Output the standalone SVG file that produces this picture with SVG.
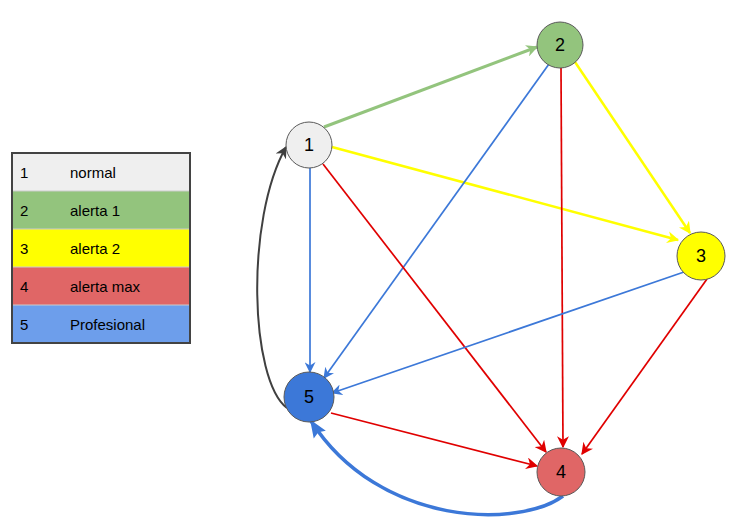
<svg xmlns="http://www.w3.org/2000/svg" width="755" height="528" viewBox="0 0 755 528">
  <style>
    text { font-family: "Liberation Sans", Arial, sans-serif; fill: #000; }
    .lbl { font-size: 15px; }
    .num { font-size: 18px; text-anchor: middle; dominant-baseline: central; }
    .node { stroke: #595959; stroke-width: 1; }
    .e { fill: none; }
  </style>
  <defs>
    <marker id="aG" viewBox="0 0 10 10" refX="9" refY="5" markerWidth="12" markerHeight="12" markerUnits="userSpaceOnUse" orient="auto"><path d="M0,0 L10,5 L0,10 L3,5 z" fill="#93c47d"/></marker>
    <marker id="aY" viewBox="0 0 10 10" refX="9" refY="5" markerWidth="12" markerHeight="12" markerUnits="userSpaceOnUse" orient="auto"><path d="M0,0 L10,5 L0,10 L3,5 z" fill="#ffff00"/></marker>
    <marker id="aB" viewBox="0 0 10 10" refX="9" refY="5" markerWidth="11" markerHeight="11" markerUnits="userSpaceOnUse" orient="auto"><path d="M0,0 L10,5 L0,10 L3,5 z" fill="#3c78d8"/></marker>
    <marker id="aR" viewBox="0 0 10 10" refX="9" refY="5" markerWidth="12" markerHeight="12" markerUnits="userSpaceOnUse" orient="auto"><path d="M0,0 L10,5 L0,10 L3,5 z" fill="#e00000"/></marker>
    <marker id="aK" viewBox="0 0 10 10" refX="9" refY="5" markerWidth="12" markerHeight="12" markerUnits="userSpaceOnUse" orient="auto"><path d="M0,0 L10,5 L0,10 L3,5 z" fill="#404040"/></marker>
    <marker id="aBig" viewBox="0 0 10 10" refX="9" refY="5" markerWidth="18" markerHeight="18" markerUnits="userSpaceOnUse" orient="auto"><path d="M0,1 L10,5 L0,9 L1.5,5 z" fill="#3c78d8"/></marker>
  </defs>

  <!-- legend table -->
  <g id="legend">
    <rect x="12" y="153" width="178" height="38" fill="#efefef"/>
    <rect x="12" y="191" width="178" height="38" fill="#93c47d"/>
    <rect x="12" y="229" width="178" height="38" fill="#ffff00"/>
    <rect x="12" y="267" width="178" height="38" fill="#e06666"/>
    <rect x="12" y="305" width="178" height="38" fill="#6d9eeb"/>
    <g stroke="#cccccc" stroke-width="1">
      <line x1="12" y1="191" x2="190" y2="191"/>
      <line x1="12" y1="229" x2="190" y2="229"/>
      <line x1="12" y1="267" x2="190" y2="267"/>
      <line x1="12" y1="305" x2="190" y2="305"/>
    </g>
    <rect x="12" y="153" width="178" height="190" fill="none" stroke="#434343" stroke-width="2"/>
    <text class="lbl" x="20" y="178">1</text><text class="lbl" x="70" y="178">normal</text>
    <text class="lbl" x="20" y="216">2</text><text class="lbl" x="70" y="216">alerta 1</text>
    <text class="lbl" x="20" y="254">3</text><text class="lbl" x="70" y="254">alerta 2</text>
    <text class="lbl" x="20" y="292">4</text><text class="lbl" x="70" y="292">alerta max</text>
    <text class="lbl" x="20" y="330">5</text><text class="lbl" x="70" y="330">Profesional</text>
  </g>

  <!-- connectors -->
  <g id="edges">
    <line class="e" x1="324" y1="127" x2="537" y2="47" style="stroke:#93c47d;stroke-width:3" marker-end="url(#aG)"/>
    <line class="e" x1="332" y1="147" x2="678" y2="240" style="stroke:#ffff00;stroke-width:2.5" marker-end="url(#aY)"/>
    <line class="e" x1="575" y1="62" x2="690" y2="233" style="stroke:#ffff00;stroke-width:2.5" marker-end="url(#aY)"/>
    <line class="e" x1="549" y1="64" x2="324" y2="378" style="stroke:#3c78d8;stroke-width:1.7" marker-end="url(#aB)"/>
    <line class="e" x1="561" y1="68" x2="563" y2="447" style="stroke:#e00000;stroke-width:1.7" marker-end="url(#aR)"/>
    <line class="e" x1="310" y1="168" x2="310" y2="372" style="stroke:#3c78d8;stroke-width:1.7" marker-end="url(#aB)"/>
    <line class="e" x1="323" y1="164" x2="546" y2="452" style="stroke:#e00000;stroke-width:1.7" marker-end="url(#aR)"/>
    <line class="e" x1="684" y1="272" x2="332" y2="393" style="stroke:#3c78d8;stroke-width:1.7" marker-end="url(#aB)"/>
    <line class="e" x1="707" y1="279" x2="582" y2="454" style="stroke:#e00000;stroke-width:1.7" marker-end="url(#aR)"/>
    <line class="e" x1="331" y1="413" x2="537" y2="466" style="stroke:#e00000;stroke-width:1.7" marker-end="url(#aR)"/>
    <path class="e" d="M563,496 C520,528 380,528 311,421" style="stroke:#3c78d8;stroke-width:3.5" marker-end="url(#aBig)"/>
    <path class="e" d="M287,408 C250,380 245,220 286,147" style="stroke:#404040;stroke-width:2" marker-end="url(#aK)"/>
  </g>

  <!-- state nodes -->
  <g id="node1"><circle class="node" cx="309" cy="145" r="23" fill="#efefef"/><text class="num" x="309" y="145">1</text></g>
  <g id="node2"><circle class="node" cx="560" cy="45" r="23" fill="#93c47d"/><text class="num" x="560" y="45">2</text></g>
  <g id="node3"><circle class="node" cx="701" cy="256" r="24" fill="#ffff00"/><text class="num" x="701" y="256">3</text></g>
  <g id="node4"><circle class="node" cx="561" cy="472" r="24" fill="#e06666"/><text class="num" x="561" y="472">4</text></g>
  <g id="node5"><circle class="node" cx="309" cy="397" r="25" fill="#3c78d8"/><text class="num" x="309" y="397">5</text></g>
</svg>
